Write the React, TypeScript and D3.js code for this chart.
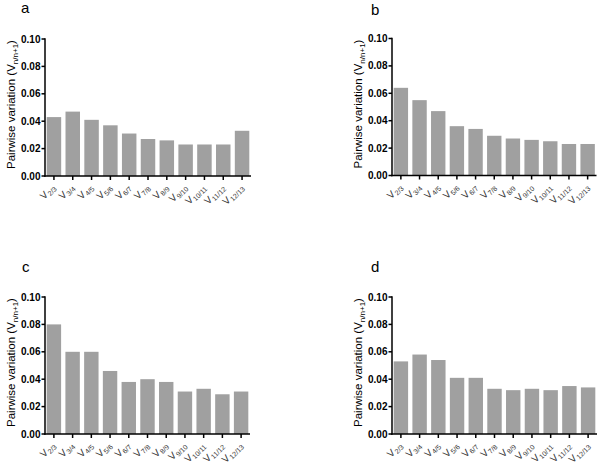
import React from "react";
import * as d3 from "d3";

const categories = ["2/3", "3/4", "4/5", "5/6", "6/7", "7/8", "8/9", "9/10", "10/11", "11/12", "12/13"];
const valuesA = [0.043, 0.047, 0.041, 0.037, 0.031, 0.027, 0.026, 0.023, 0.023, 0.023, 0.033];
const valuesB = [0.064, 0.055, 0.047, 0.036, 0.034, 0.029, 0.027, 0.026, 0.025, 0.023, 0.023];
const valuesC = [0.080, 0.060, 0.060, 0.046, 0.038, 0.040, 0.038, 0.031, 0.033, 0.029, 0.031];
const valuesD = [0.053, 0.058, 0.054, 0.041, 0.041, 0.033, 0.032, 0.033, 0.032, 0.035, 0.034];
const yTicks = [0, 0.02, 0.04, 0.06, 0.08, 0.1];
const panelLetters = ["a", "b", "c", "d"];
const yLabelMain = "Pairwise variation (V";
const yLabelSub = "n/n+1";

const layouts = [
  { x0: 45, x1: 251, yb: 176, yt: 39, lx: 21, ly: 13 },
  { x0: 392, x1: 596.5, yb: 175.5, yt: 38.5, lx: 371, ly: 15 },
  { x0: 45, x1: 250, yb: 434, yt: 297, lx: 22, ly: 272 },
  { x0: 392, x1: 597, yb: 434, yt: 297, lx: 371, ly: 272 },
];

const allValues = [valuesA, valuesB, valuesC, valuesD];
const FONT = "Arial, 'Liberation Sans', Helvetica, sans-serif";

function Panel({ values, letter, L }: any) {
  const x = d3.scaleBand<string>().domain(categories).range([L.x0, L.x1]).paddingInner(0.23).paddingOuter(0.09);
  const y = d3.scaleLinear().domain([0, 0.1]).range([L.yb, L.yt]);
  const fmt = d3.format(".2f");
  const cy = (L.yb + L.yt) / 2 - 3;
  return (
    <g fontFamily={FONT}>
      <text x={L.lx} y={L.ly} fontSize={15} fill="#000">{letter}</text>
      {values.map((v: number, i: number) => (
        <rect key={i} x={x(categories[i])} y={y(v)} width={x.bandwidth()} height={y(0) - y(v)} fill="#a0a0a0" />
      ))}
      <line x1={L.x0} x2={L.x0} y1={y(0.1) - 0.75} y2={y(0) + 0.75} stroke="#000" strokeWidth={1.5} />
      {yTicks.map((t) => (
        <g key={t}>
          <line x1={L.x0 - 3.5} x2={L.x0} y1={y(t)} y2={y(t)} stroke="#000" strokeWidth={1.5} />
          <text x={L.x0 - 4.5} y={y(t)} dy="0.35em" textAnchor="end" fontSize={10} fontWeight="bold" fill="#000">{fmt(t)}</text>
        </g>
      ))}
      <line x1={L.x0 - 0.75} x2={L.x1} y1={y(0)} y2={y(0)} stroke="#000" strokeWidth={1.5} />
      {categories.map((c) => {
        const cx = (x(c) as number) + x.bandwidth() / 2;
        return (
          <g key={c}>
            <line x1={cx} x2={cx} y1={y(0)} y2={y(0) + 4} stroke="#000" strokeWidth={1.5} />
            <text transform={`translate(${cx + 2},${y(0) + 12}) rotate(-45)`} textAnchor="end" fontSize={10} fill="#333">
              V<tspan dx={0.5} dy={2} fontSize={7}>{c}</tspan>
            </text>
          </g>
        );
      })}
      <text transform={`translate(${L.x0 - 30},${cy}) rotate(-90)`} textAnchor="middle" fontSize={11.5} fill="#000">
        {yLabelMain}<tspan dy={2.5} fontSize={8}>{yLabelSub}</tspan><tspan dy={-2.5}>)</tspan>
      </text>
    </g>
  );
}

export default function App() {
  return (
    <svg width={600} height={465} style={{ position: "absolute", left: 0, top: 0, background: "#fff" }}>
      <rect width={600} height={465} fill="#fff" />
      {allValues.map((vals, i) => (
        <Panel key={i} values={vals} letter={panelLetters[i]} L={layouts[i]} />
      ))}
    </svg>
  );
}
